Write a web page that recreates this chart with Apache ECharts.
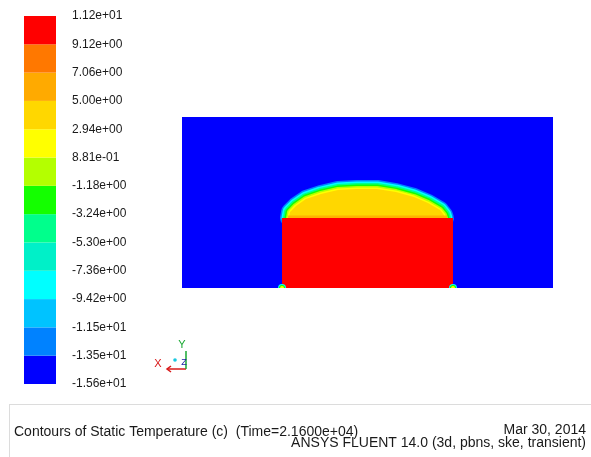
<!DOCTYPE html>
<html>
<head>
<meta charset="utf-8">
<title>Contours of Static Temperature</title>
<script src="https://cdn.jsdelivr.net/npm/echarts@6/dist/echarts.min.js"></script>
<style>
  html, body { margin: 0; padding: 0; background: #fff; }
  #chart { width: 591px; height: 457px; }
</style>
</head>
<body>
<div id="chart"></div>
<script>
// Contour levels of static temperature (°C), bottom to top
const levelValues = [-15.6, -13.5, -11.5, -9.42, -7.36, -5.30, -3.24, -1.18, 0.881, 2.94, 5.00, 7.06, 9.12, 11.2];
const levelLabels = ['-1.56e+01', '-1.35e+01', '-1.15e+01', '-9.42e+00', '-7.36e+00', '-5.30e+00',
  '-3.24e+00', '-1.18e+00', '8.81e-01', '2.94e+00', '5.00e+00', '7.06e+00', '9.12e+00', '1.12e+01'];
// Band colours between consecutive levels, coldest first
const bandColors = ['#0000ff', '#0082ff', '#00c3ff', '#00ffff', '#00f0c8', '#00ff8c', '#14ff00',
  '#b4ff00', '#ffff00', '#ffd700', '#ffaa00', '#ff7800', '#ff0000'];

// Section geometry (m)
const domainX = [0, 2.17];
const domainY = [0, 1.0];
const blockX = [0.585, 1.585];
const blockTop = 0.409;
// Warm air cap above the block: boundary of the 2.94–5.00 band
const domeProfile = [
  [0.626, 0.409], [0.632, 0.444], [0.667, 0.480], [0.725, 0.520], [0.813, 0.550],
  [0.912, 0.573], [1.023, 0.579], [1.140, 0.579], [1.251, 0.561], [1.357, 0.532],
  [1.439, 0.497], [1.509, 0.456], [1.532, 0.427], [1.538, 0.409]
];

// Thin mixing layers around the cap, from the outside in (band index, spread in px)
const capLayers = [[1, 9], [3, 7.5], [5, 6], [6, 4.5], [7, 3], [8, 1.5]];

const chart = echarts.init(document.getElementById('chart'), null, { renderer: 'canvas' });
const FONT = 'Liberation Sans, Arial, sans-serif';

function bandItem(params, api) {
  const i = api.value(0);
  const a = api.coord([0, i + 1]);
  const b = api.coord([1, i]);
  return {
    type: 'rect',
    shape: { x: a[0], y: a[1], width: b[0] - a[0], height: b[1] - a[1] },
    style: { fill: bandColors[i] }
  };
}

function fieldItem(params, api) {
  const p = (x, y) => api.coord([x, y]);
  const children = [];
  const tl = p(domainX[0], domainY[1]);
  const br = p(domainX[1], domainY[0]);
  children.push({
    type: 'rect',
    shape: { x: tl[0], y: tl[1], width: br[0] - tl[0], height: br[1] - tl[1] },
    style: { fill: bandColors[0] }
  });
  const pts = domeProfile.map(q => p(q[0], q[1]));
  capLayers.forEach(([k, w]) => {
    children.push({
      type: 'polygon',
      shape: { points: pts },
      style: { fill: bandColors[k], stroke: bandColors[k], lineWidth: 2 * w, lineJoin: 'round' }
    });
  });
  children.push({ type: 'polygon', shape: { points: pts }, style: { fill: bandColors[9] } });
  const l = p(blockX[0], blockTop);
  const r = p(blockX[1], blockTop);
  children.push({
    type: 'line',
    shape: { x1: l[0] + 6, y1: l[1], x2: r[0] - 6, y2: r[1] },
    style: { stroke: bandColors[10], lineWidth: 5, opacity: 0.85 }
  });
  const bb = p(blockX[1], domainY[0]);
  children.push({
    type: 'rect',
    shape: { x: l[0], y: l[1], width: bb[0] - l[0], height: bb[1] - l[1] },
    style: { fill: bandColors[12] }
  });
  // cold spots at the lower corners of the block
  [blockX[0], blockX[1]].forEach(x => {
    const c = p(x, domainY[0]);
    [[3, 4], [6, 3], [8, 2]].forEach(([k, rr]) => {
      children.push({
        type: 'sector',
        shape: { cx: c[0], cy: c[1], r0: 0, r: rr, startAngle: Math.PI, endAngle: Math.PI * 2, clockwise: true },
        style: { fill: bandColors[k] }
      });
    });
  });
  return { type: 'group', children };
}

chart.setOption({
  animation: false,
  backgroundColor: '#ffffff',
  grid: [
    { left: 24, top: 16, width: 32, height: 368 },
    { left: 182, top: 117, width: 371, height: 171 }
  ],
  xAxis: [
    { gridIndex: 0, type: 'value', min: 0, max: 1, show: false },
    { gridIndex: 1, type: 'value', min: domainX[0], max: domainX[1], show: false }
  ],
  yAxis: [
    {
      gridIndex: 0, type: 'value', min: 0, max: levelValues.length - 1, interval: 1,
      position: 'right',
      axisLine: { show: false }, axisTick: { show: false }, splitLine: { show: false },
      axisLabel: {
        margin: 16, fontFamily: FONT, fontSize: 12, color: '#1a1a1a',
        formatter: v => levelLabels[Math.round(v)]
      }
    },
    { gridIndex: 1, type: 'value', min: domainY[0], max: domainY[1], show: false }
  ],
  series: [
    {
      type: 'custom', xAxisIndex: 0, yAxisIndex: 0, silent: true,
      renderItem: bandItem,
      data: bandColors.map((c, i) => [i])
    },
    {
      type: 'custom', xAxisIndex: 1, yAxisIndex: 1, silent: true,
      renderItem: fieldItem,
      data: [[0]]
    }
  ],
  graphic: [
    // axis triad
    { type: 'line', shape: { x1: 168, y1: 369, x2: 186, y2: 369 }, style: { stroke: '#d81818', lineWidth: 1.5 } },
    { type: 'polyline', shape: { points: [[171, 366], [167, 369], [171, 372]] }, style: { stroke: '#d81818', lineWidth: 1.5, fill: null } },
    { type: 'line', shape: { x1: 186, y1: 369, x2: 186, y2: 351 }, style: { stroke: '#19a832', lineWidth: 1.5 } },
    { type: 'circle', shape: { cx: 175, cy: 360, r: 1.8 }, style: { fill: '#19c8e0' } },
    { type: 'text', x: 158, y: 364, style: { text: 'X', fill: '#d81818', font: '11px ' + FONT, align: 'center', verticalAlign: 'middle' } },
    { type: 'text', x: 182, y: 345, style: { text: 'Y', fill: '#19a832', font: '11px ' + FONT, align: 'center', verticalAlign: 'middle' } },
    { type: 'text', x: 184, y: 363, style: { text: 'Z', fill: '#1a1aa0', font: '9px ' + FONT, align: 'center', verticalAlign: 'middle' } },
    // caption frame
    { type: 'line', shape: { x1: 9, y1: 404.5, x2: 591, y2: 404.5 }, style: { stroke: '#dcdcdc', lineWidth: 1 } },
    { type: 'line', shape: { x1: 9.5, y1: 404, x2: 9.5, y2: 457 }, style: { stroke: '#dcdcdc', lineWidth: 1 } },
    { type: 'text', x: 14, y: 432, style: { text: 'Contours of Static Temperature (c)  (Time=2.1600e+04)', fill: '#1a1a1a', font: '14px ' + FONT, verticalAlign: 'middle' } },
    { type: 'text', x: 586, y: 430, style: { text: 'Mar 30, 2014', fill: '#1a1a1a', font: '14px ' + FONT, align: 'right', verticalAlign: 'middle' } },
    { type: 'text', x: 586, y: 443, style: { text: 'ANSYS FLUENT 14.0 (3d, pbns, ske, transient)', fill: '#1a1a1a', font: '14px ' + FONT, align: 'right', verticalAlign: 'middle' } }
  ]
});
</script>
</body>
</html>
